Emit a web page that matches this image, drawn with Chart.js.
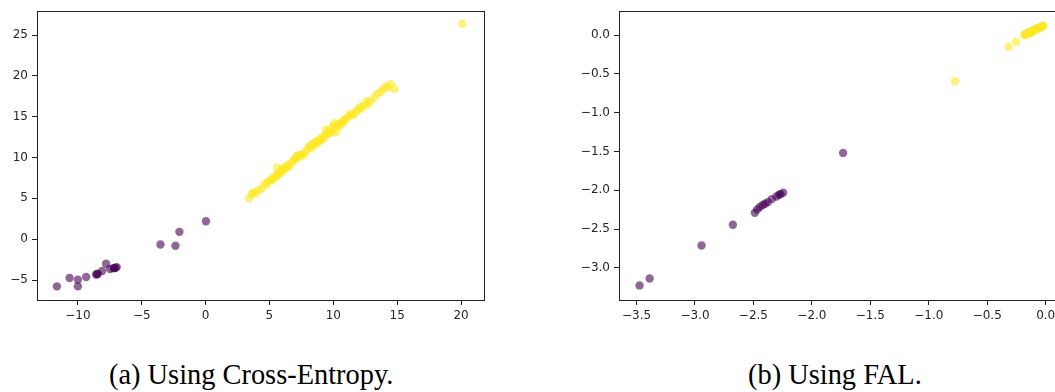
<!DOCTYPE html>
<html lang="en">

<head>
	<meta charset="UTF-8">
	<script src="https://cdn.jsdelivr.net/npm/chart.js@4.4.1/dist/chart.umd.min.js"></script>
	<title>Cross-Entropy vs FAL</title>
	<style>
		html, body { margin: 0; padding: 0; background: #fff; overflow: hidden; }
		body { width: 1055px; height: 392px; position: relative; }
		#left { position: absolute; left: 0; top: 0; }
		#rightWrap { position: absolute; left: 560px; top: 0; width: 495px; height: 330px; overflow: hidden; }
		.cap { position: absolute; top: 359px; font-family: "Liberation Serif", serif; font-size: 28.4px; color: #000; white-space: nowrap; }
	</style>
</head>

<body>
	<canvas id="left" width="500" height="325"></canvas>
	<div id="rightWrap"><canvas id="right" width="520" height="325"></canvas></div>
	<div class="cap" style="left:109px">(a) Using Cross-Entropy.</div>
	<div class="cap" style="left:748px">(b) Using FAL.</div>
	<script>
		// (a) cross-entropy
		let ceXTicks = [-10, -5, 0, 5, 10, 15, 20];
		let ceYTicks = [-5, 0, 5, 10, 15, 20, 25];
		let cePurpleX = [-11.64, -10.65, -10.0, -10.0, -9.35, -8.57, -8.5, -8.44, -8.1, -7.79, -7.48, -7.2, -7.14, -7.05, -6.96, -3.53, -2.36, -2.05, 0.03];
		let cePurpleY = [-5.78, -4.76, -4.97, -5.78, -4.64, -4.32, -4.3, -4.23, -3.9, -3.0, -3.66, -3.55, -3.54, -3.5, -3.42, -0.65, -0.81, 0.9, 2.2];
		let ceYellowX = [3.4, 3.6, 3.7, 3.9, 4.1, 4.4, 4.6, 4.8, 4.9, 5.1, 5.2, 5.3, 5.4, 5.5, 5.6, 5.6, 5.7, 5.8, 5.9, 6.0,
			6.0, 6.1, 6.2, 6.3, 6.4, 6.5, 6.6, 6.8, 6.9, 7.0, 7.1, 7.2, 7.3, 7.4, 7.5, 7.7, 7.8, 8.0, 8.1, 8.2,
			8.3, 8.4, 8.5, 8.6, 8.7, 8.8, 8.9, 9.0, 9.1, 9.2, 9.3, 9.4, 9.5, 9.6, 9.7, 9.8, 9.9, 10.0, 10.1, 10.2,
			10.3, 10.4, 10.5, 10.6, 10.7, 10.8, 10.9, 11.0, 11.2, 11.3, 11.5, 11.6, 11.8, 11.9, 12.1, 12.2, 12.4, 12.6, 12.7, 12.9,
			13.2, 13.4, 13.7, 13.9, 14.1, 14.3, 14.5, 14.8, 20.1];
		let ceYellowY = [5.0, 5.5, 5.7, 5.6, 6.0, 6.2, 6.8, 6.7, 7.1, 7.2, 7.4, 7.3, 7.7, 7.6, 8.8, 7.9, 8.1, 8.0, 8.4, 8.3,
			8.6, 8.5, 8.7, 8.9, 8.8, 9.2, 9.0, 9.5, 9.7, 9.8, 10.2, 10.0, 10.3, 10.1, 10.4, 10.3, 10.7, 11.1, 11.3, 11.5,
			11.2, 11.7, 11.5, 11.9, 11.7, 12.1, 12.0, 12.3, 12.2, 12.6, 12.4, 13.4, 12.9, 13.1, 12.9, 13.5, 13.2, 13.9, 14.2, 13.1,
			13.8, 14.1, 13.9, 14.3, 14.2, 14.6, 14.5, 14.8, 15.0, 15.3, 15.4, 15.2, 15.6, 15.9, 16.2, 16.0, 16.4, 16.9, 16.5, 16.9,
			17.3, 17.8, 18.0, 18.4, 18.7, 18.6, 19.0, 18.4, 26.4];

		// (b) FAL
		let falXTicks = [-3.5, -3.0, -2.5, -2.0, -1.5, -1.0, -0.5, 0.0];
		let falYTicks = [-3.0, -2.5, -2.0, -1.5, -1.0, -0.5, 0.0];
		let falPurpleX = [-3.474, -3.388, -2.944, -2.676, -2.488, -2.468, -2.445, -2.42, -2.40, -2.377, -2.343, -2.303, -2.28, -2.268, -2.246, -1.733];
		let falPurpleY = [-3.227, -3.137, -2.713, -2.444, -2.29, -2.247, -2.217, -2.19, -2.174, -2.153, -2.114, -2.08, -2.058, -2.05, -2.033, -1.519];
		let falYellowX = [-0.776, -0.316, -0.254, -0.185, -0.178, -0.17, -0.165, -0.158, -0.15, -0.145, -0.138, -0.13, -0.125, -0.118,
			-0.11, -0.105, -0.098, -0.09, -0.085, -0.078, -0.07, -0.065, -0.058, -0.05, -0.045, -0.04, -0.035, -0.03, -0.025, -0.02,
			-0.16, -0.12, -0.08, -0.06, -0.14, -0.1];
		let falYellowY = [-0.595, -0.15, -0.086, 0.0, 0.005, 0.011, 0.015, 0.02, 0.026, 0.029, 0.034, 0.04, 0.044, 0.049,
			0.055, 0.058, 0.064, 0.069, 0.073, 0.078, 0.084, 0.088, 0.093, 0.099, 0.102, 0.106, 0.11, 0.113, 0.117, 0.121,
			0.03, 0.036, 0.09, 0.085, 0.018, 0.07];

		let purple = "rgba(68, 1, 84, 0.6)";
		let yellow = "rgba(253, 231, 37, 0.6)";

		let pts = (xs, ys) => xs.map((x, i) => ({ x: x, y: ys[i] }));
		let minus = s => String(s).replace("-", "\u2212");

		let frame = {
			id: "frame",
			afterDraw: chart => {
				let a = chart.chartArea;
				let ctx = chart.ctx;
				ctx.save();
				ctx.strokeStyle = "#222";
				ctx.lineWidth = 1;
				ctx.strokeRect(Math.round(a.left) + 0.5, Math.round(a.top) + 0.5, Math.round(a.right - a.left), Math.round(a.bottom - a.top));
				ctx.restore();
			}
		};

		let makeChart = (id, purplePts, yellowPts, xr, yr, xt, yt, fmt, yw, pad) => {
			let axis = (min, max, ticks, fit) => ({
				type: "linear",
				min: min,
				max: max,
				afterBuildTicks: s => { s.ticks = ticks.map(v => ({ value: v })); },
				afterFit: fit,
				grid: { display: true, drawOnChartArea: false, drawTicks: true, tickLength: 5, color: "#222" },
				border: { display: true, color: "#222", width: 1 },
				ticks: {
					color: "#262626",
					padding: 4,
					maxRotation: 0,
					autoSkip: false,
					font: { family: "DejaVu Sans", size: 12 },
					callback: v => minus(fmt(v))
				}
			});
			return new Chart(id, {
				type: "scatter",
				data: {
					datasets: [{
						data: purplePts,
						backgroundColor: purple,
						borderWidth: 0,
						pointRadius: 4.2
					}, {
						data: yellowPts,
						backgroundColor: yellow,
						borderWidth: 0,
						pointRadius: 4.2
					}]
				},
				options: {
					responsive: false,
					animation: false,
					events: [],
					layout: { padding: pad },
					plugins: { legend: { display: false }, tooltip: { enabled: false } },
					scales: {
						x: axis(xr[0], xr[1], xt, s => { s.height = 25; }),
						y: axis(yr[0], yr[1], yt, s => { s.width = yw; })
					}
				},
				plugins: [frame]
			});
		};

		makeChart("left", pts(cePurpleX, cePurpleY), pts(ceYellowX, ceYellowY),
			[-13.2, 21.8], [-7.45, 27.93], ceXTicks, ceYTicks,
			v => String(v), 37, { top: 10, right: 16, bottom: 0, left: 0 });

		makeChart("right", pts(falPurpleX, falPurpleY), pts(falYellowX, falYellowY),
			[-3.65, 0.148], [-3.415, 0.308], falXTicks, falYTicks,
			v => v.toFixed(1), 59, { top: 10, right: 17, bottom: 0, left: 0 });
	</script>
</body>

</html>
